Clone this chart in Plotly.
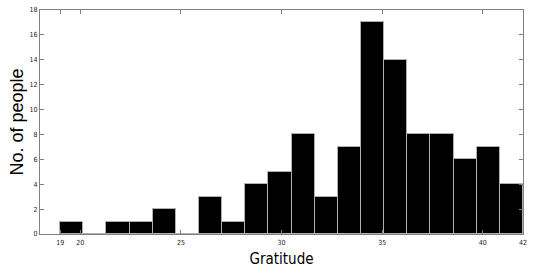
import numpy as np
import plotly.graph_objects as go

bin_start = 19.0
bin_width = 1.15
counts = [1, 0, 1, 1, 2, 0, 3, 1, 4, 5, 8, 3, 7, 17, 14, 8, 8, 6, 7, 4]
x_ticks = [19, 20, 25, 30, 35, 40, 42]
y_ticks = list(range(0, 19, 2))

centers = [bin_start + bin_width * (i + 0.5) for i in range(len(counts))]

fig = go.Figure(go.Bar(
    x=centers, y=counts, width=[bin_width] * len(counts),
    marker=dict(color="black", line=dict(color="#b0b0b0", width=1)),
))

tick_font = dict(size=7, family="DejaVu Sans Condensed, Liberation Sans", color="#222")

fig.update_layout(
    width=533, height=271,
    margin=dict(l=40, r=6, t=8, b=37),
    paper_bgcolor="white", plot_bgcolor="white",
    showlegend=False, bargap=0,
    font=dict(family="Liberation Sans, Arial", color="black"),
)
fig.update_xaxes(
    range=[18, 42], tickvals=x_ticks, ticktext=[str(v) for v in x_ticks],
    ticks="inside", ticklen=4, tickcolor="#808080", tickwidth=1,
    showline=True, linecolor="#808080", linewidth=1, mirror="ticks",
    showgrid=False, zeroline=False,
    tickfont=tick_font, ticklabelstandoff=2,
    title=dict(text="Gratitude", font=dict(size=15, family="DejaVu Sans Condensed, Liberation Sans"), standoff=7),
)
fig.update_yaxes(
    range=[0, 18], tickvals=y_ticks,
    ticks="inside", ticklen=4, tickcolor="#808080", tickwidth=1,
    showline=True, linecolor="#808080", linewidth=1, mirror="ticks",
    showgrid=False, zeroline=False,
    tickfont=tick_font,
    title=dict(text="No. of people", font=dict(size=18, family="Liberation Sans, Arial"), standoff=1),
)

fig.write_html(
    "out.html",
    config={"responsive": False, "displayModeBar": False},
    post_script="document.body.style.margin='0';document.body.style.overflow='hidden';",
)
